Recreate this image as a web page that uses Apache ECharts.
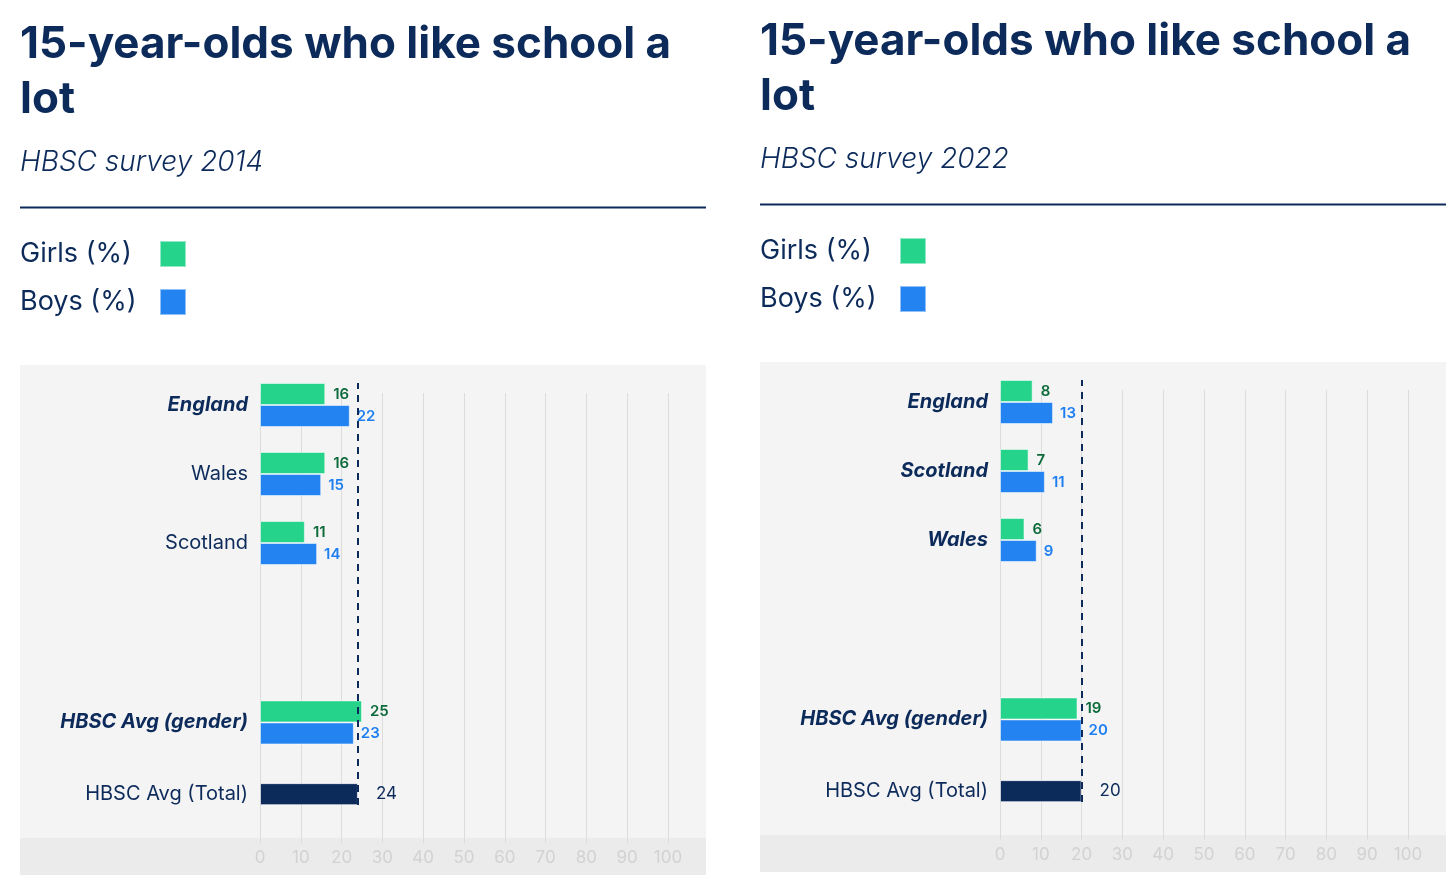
<!DOCTYPE html>
<html>
<head>
<meta charset="utf-8">
<script src="https://cdn.jsdelivr.net/npm/echarts@6/dist/echarts.min.js"></script>
<style>
html,body{margin:0;padding:0;background:#fff;}
#chart{width:1456px;height:888px;}
</style>
</head>
<body>
<div id="chart"></div>
<script>
// ---- Data ----
const titleText = '15-year-olds who like school a\nlot';
const subtitle2014 = 'HBSC survey 2014';
const subtitle2022 = 'HBSC survey 2022';
const seriesNames = ['Girls (%)', 'Boys (%)'];

const countries2014 = ['England', 'Wales', 'Scotland'];
const girls2014 = [16, 16, 11];
const boys2014 = [22, 15, 14];
const avgGirls2014 = 25;
const avgBoys2014 = 23;
const avgTotal2014 = 24;

const countries2022 = ['England', 'Scotland', 'Wales'];
const girls2022 = [8, 7, 6];
const boys2022 = [13, 11, 9];
const avgGirls2022 = 19;
const avgBoys2022 = 20;
const avgTotal2022 = 20;

const avgCategories = ['HBSC Avg (gender)', 'HBSC Avg (Total)'];
const xMin = 0, xMax = 100, xInterval = 10;

// style: which category labels are bold italic
const emph2014 = ['England', 'HBSC Avg (gender)'];
const emph2022 = ['England', 'Scotland', 'Wales', 'HBSC Avg (gender)'];

// ---- Styles ----
const NAVY = '#0c2a5a';
const GREEN = '#26d38a';
const BLUE = '#2383f1';
const GREEN_TXT = '#0d6b3b';
const BLUE_TXT = '#1f7ff0';
const FONT = 'Inter, "Noto Sans", sans-serif';

const chart = echarts.init(document.getElementById('chart'), null, {renderer: 'canvas'});

const option = {
  backgroundColor: '#ffffff',
  animation: false,
  textStyle: {fontFamily: FONT},
  title: [], legend: [], grid: [], xAxis: [], yAxis: [], series: [], graphic: []
};

function addPanel(p, dx, dy, subtitle, countries, girls, boys, aG, aB, aT, emph) {
  const gBase = option.grid.length;
  const yBase = option.yAxis.length;
  const left = 260 + dx;
  const width = 408;

  option.title.push({
    text: titleText, left: 20 + dx, top: 17 + dy, padding: 0,
    textStyle: {fontFamily: FONT, fontSize: 44, fontWeight: 700, color: NAVY, lineHeight: 55}
  });
  option.title.push({
    text: subtitle, left: 20 + dx, top: 149 + dy, padding: 0,
    textStyle: {fontFamily: FONT, fontSize: 28, fontWeight: 300, fontStyle: 'italic', color: NAVY}
  });
  option.legend.push({
    data: seriesNames, orient: 'vertical', left: 20 + dx, top: 240 + dy, padding: 0,
    align: 'right', itemWidth: 26, itemHeight: 26, itemGap: 20, icon: 'rect',
    selectedMode: false,
    formatter: '{t|{name}}',
    textStyle: {
      fontFamily: FONT, fontSize: 27, color: NAVY,
      rich: {t: {fontFamily: FONT, fontSize: 27, color: NAVY, width: 135, lineHeight: 26, align: 'left'}}
    }
  });

  option.graphic.push(
    {type: 'line', z: 1, shape: {x1: 20 + dx, y1: 207.5 + dy, x2: 706 + dx, y2: 207.5 + dy},
     style: {stroke: NAVY, lineWidth: 2}},
    {type: 'rect', z: -10, shape: {x: 20 + dx, y: 365 + dy, width: 686, height: 473},
     style: {fill: '#f4f4f4'}},
    {type: 'rect', z: -10, shape: {x: 20 + dx, y: 838 + dy, width: 686, height: 37},
     style: {fill: '#ebebeb'}}
  );

  // grids: 0 background/ticks, 1 countries, 2 averages, 3 dashed marker
  option.grid.push(
    {left: left, width: width, top: 393 + dy, height: 450},
    {left: left, width: width, top: 370.5 + dy, height: 207},
    {left: left, width: width, top: 686.6 + dy, height: 143.4},
    {left: left, width: width, top: 383 + dy, height: 422}
  );
  for (let i = 0; i < 4; i++) {
    const isBg = i === 0;
    option.xAxis.push({
      type: 'value', gridIndex: gBase + i, min: xMin, max: xMax, interval: xInterval,
      show: isBg,
      axisLine: {show: false}, axisTick: {show: false},
      splitLine: {show: isBg, lineStyle: {color: '#dcdcdc', width: 1}},
      axisLabel: {show: isBg, color: '#d2d2d2', fontSize: 17, margin: 6, fontFamily: FONT}
    });
  }
  const labelFmt = function (v) {
    return emph.indexOf(v) >= 0 ? '{b|' + v + '}' : '{n|' + v + '}';
  };
  const labelRich = {
    b: {fontFamily: FONT, fontSize: 20, fontWeight: 700, fontStyle: 'italic', color: NAVY},
    n: {fontFamily: FONT, fontSize: 20, fontWeight: 400, color: NAVY}
  };
  option.yAxis.push({type: 'value', gridIndex: gBase, show: false});
  option.yAxis.push({
    type: 'category', gridIndex: gBase + 1, data: countries, inverse: true,
    axisLine: {show: false}, axisTick: {show: false}, splitLine: {show: false},
    axisLabel: {margin: 12, formatter: labelFmt, rich: labelRich}
  });
  option.yAxis.push({
    type: 'category', gridIndex: gBase + 2, data: avgCategories, inverse: true,
    axisLine: {show: false}, axisTick: {show: false}, splitLine: {show: false},
    axisLabel: {margin: 12, formatter: labelFmt, rich: labelRich}
  });
  option.yAxis.push({
    type: 'category', gridIndex: gBase + 2, data: avgCategories, inverse: true, show: false
  });
  option.yAxis.push({type: 'value', gridIndex: gBase + 3, min: 0, max: 1, show: false});

  const barCommon = {type: 'bar', barWidth: 22, barGap: '0%'};
  const gLabel = {show: true, position: 'right', distance: 8, fontSize: 15, fontWeight: 600,
                  color: GREEN_TXT, fontFamily: FONT};
  const bLabel = {show: true, position: 'right', distance: 7, fontSize: 15, fontWeight: 600,
                  color: BLUE_TXT, fontFamily: FONT};
  const gItem = {color: GREEN, borderColor: 'rgba(255,255,255,0.5)', borderWidth: 1};
  const bItem = {color: BLUE, borderColor: 'rgba(255,255,255,0.5)', borderWidth: 1};

  option.series.push(
    Object.assign({}, barCommon, {name: seriesNames[0], xAxisIndex: gBase + 1, yAxisIndex: yBase + 1,
      data: girls, itemStyle: gItem, label: gLabel}),
    Object.assign({}, barCommon, {name: seriesNames[1], xAxisIndex: gBase + 1, yAxisIndex: yBase + 1,
      data: boys, itemStyle: bItem, label: bLabel}),
    Object.assign({}, barCommon, {name: seriesNames[0], xAxisIndex: gBase + 2, yAxisIndex: yBase + 2,
      data: [aG, null], itemStyle: gItem, label: gLabel}),
    Object.assign({}, barCommon, {name: seriesNames[1], xAxisIndex: gBase + 2, yAxisIndex: yBase + 2,
      data: [aB, null], itemStyle: bItem, label: bLabel}),
    Object.assign({}, barCommon, {name: 'Total', xAxisIndex: gBase + 2, yAxisIndex: yBase + 3,
      data: [null, aT],
      itemStyle: {color: NAVY, borderColor: 'rgba(255,255,255,0.6)', borderWidth: 1},
      label: {show: true, position: 'right', distance: 18, fontSize: 17, fontWeight: 400,
              color: NAVY, fontFamily: FONT}}),
    {
      type: 'line', name: 'avgline', xAxisIndex: gBase + 3, yAxisIndex: yBase + 4, data: [],
      markLine: {
        symbol: 'none', silent: true, animation: false,
        label: {show: false},
        lineStyle: {color: NAVY, width: 2, type: [7, 6]},
        data: [{xAxis: aT}]
      }
    }
  );
}

addPanel(0, 0, 0, subtitle2014, countries2014, girls2014, boys2014,
         avgGirls2014, avgBoys2014, avgTotal2014, emph2014);
addPanel(1, 740, -3, subtitle2022, countries2022, girls2022, boys2022,
         avgGirls2022, avgBoys2022, avgTotal2022, emph2022);

chart.setOption(option);
</script>
</body>
</html>
